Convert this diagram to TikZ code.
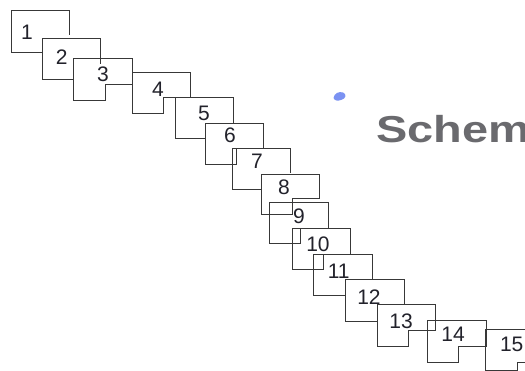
\documentclass[tikz,border=0pt]{standalone}
\usepackage{fontspec}
\setmainfont{Liberation Sans}
\definecolor{edge}{HTML}{383838}
\definecolor{digit}{HTML}{22222B}
\definecolor{titlegray}{HTML}{6A6A6E}
\definecolor{blob}{HTML}{6480F0}
\begin{document}
\begin{tikzpicture}[x=1pt,y=-1pt,
  outline/.style={draw=edge,line width=0.8pt,line join=miter},
  lab/.style={inner sep=0pt,text=digit,font=\fontsize{21}{21}\selectfont},
  titletext/.style={inner sep=0pt,anchor=base west,text=titlegray,font=\fontsize{37.5}{37.5}\selectfont\bfseries}]
\useasboundingbox (0,0) rectangle (525,371);
\fill[white] (0,0) rectangle (525,371);
% box 1
\draw[outline] (69,35) -- (69,10) -- (11,10) -- (11,52) -- (42,52);
% box 2
\draw[outline] (100,64) -- (100,38) -- (42,38) -- (42,79) -- (73,79);
% box 3
\draw[outline] (73,58) -- (132,58) -- (132,84) -- (105,84) -- (105,100) -- (73,100) -- cycle;
% box 4
\draw[outline] (132,72) -- (190,72) -- (190,97) -- (163,97) -- (163,113) -- (132,113) -- cycle;
% box 5
\draw[outline] (233,123) -- (233,97) -- (175,97) -- (175,138) -- (205,138);
% box 6
\draw[outline] (263,148) -- (263,123) -- (205,123) -- (205,164) -- (236,164) -- (236,148);
% box 7
\draw[outline] (290,173) -- (290,148) -- (232,148) -- (232,189) -- (261,189);
% box 8
\draw[outline] (261,174) -- (319,174) -- (319,198) -- (292,198) -- (292,214) -- (261,214) -- cycle;
% box 9
\draw[outline] (269,202) -- (328,202) -- (328,228) -- (300,228) -- (300,243) -- (269,243) -- cycle;
% box 10
\draw[outline] (292,228) -- (350,228) -- (350,254) -- (323,254) -- (323,269) -- (292,269) -- cycle;
% box 11
\draw[outline] (372,279) -- (372,254) -- (313,254) -- (313,295) -- (345,295);
% box 12
\draw[outline] (404,304) -- (404,279) -- (345,279) -- (345,321) -- (377,321);
% box 13
\draw[outline] (377,304) -- (435,304) -- (435,330) -- (408,330) -- (408,346) -- (377,346) -- cycle;
% box 14
\draw[outline] (427,320) -- (486,320) -- (486,346) -- (458,346) -- (458,362) -- (427,362) -- cycle;
% box 15
\draw[outline] (530,329) -- (485,329) -- (485,370.5) -- (517,370.5) -- (517,362) -- (530,362);
% labels
\node[lab] (n1) at (27,32.5) {1};
\node[lab] (n2) at (61.7,57.5) {2};
\node[lab] (n3) at (103,74) {3};
\node[lab] (n4) at (158,89) {4};
\node[lab] (n5) at (204,113) {5};
\node[lab] (n6) at (230,135.6) {6};
\node[lab] (n7) at (257,161.7) {7};
\node[lab] (n8) at (284,187.5) {8};
\node[lab] (n9) at (299,216.7) {9};
\node[lab] (n10) at (318,244.7) {10};
\node[lab] (n11) at (338.7,270.8) {11};
\node[lab] (n12) at (369,296.7) {12};
\node[lab] (n13) at (401,320.8) {13};
\node[lab] (n14) at (453,334.7) {14};
\node[lab] (n15) at (511.7,344) {15};
% blue smudge
\fill[blob,opacity=0.85] (333.5,98) .. controls (334,93.5) and (339,91) .. (343,92.5) .. controls (347,94) and (346,99) .. (341,100) .. controls (338,101) and (334.5,101) .. (333.5,98) -- cycle;
% title
\node[titletext] (title) at (376,143) {\scalebox{1.25}[1]{Schem}};
\end{tikzpicture}
\end{document}
